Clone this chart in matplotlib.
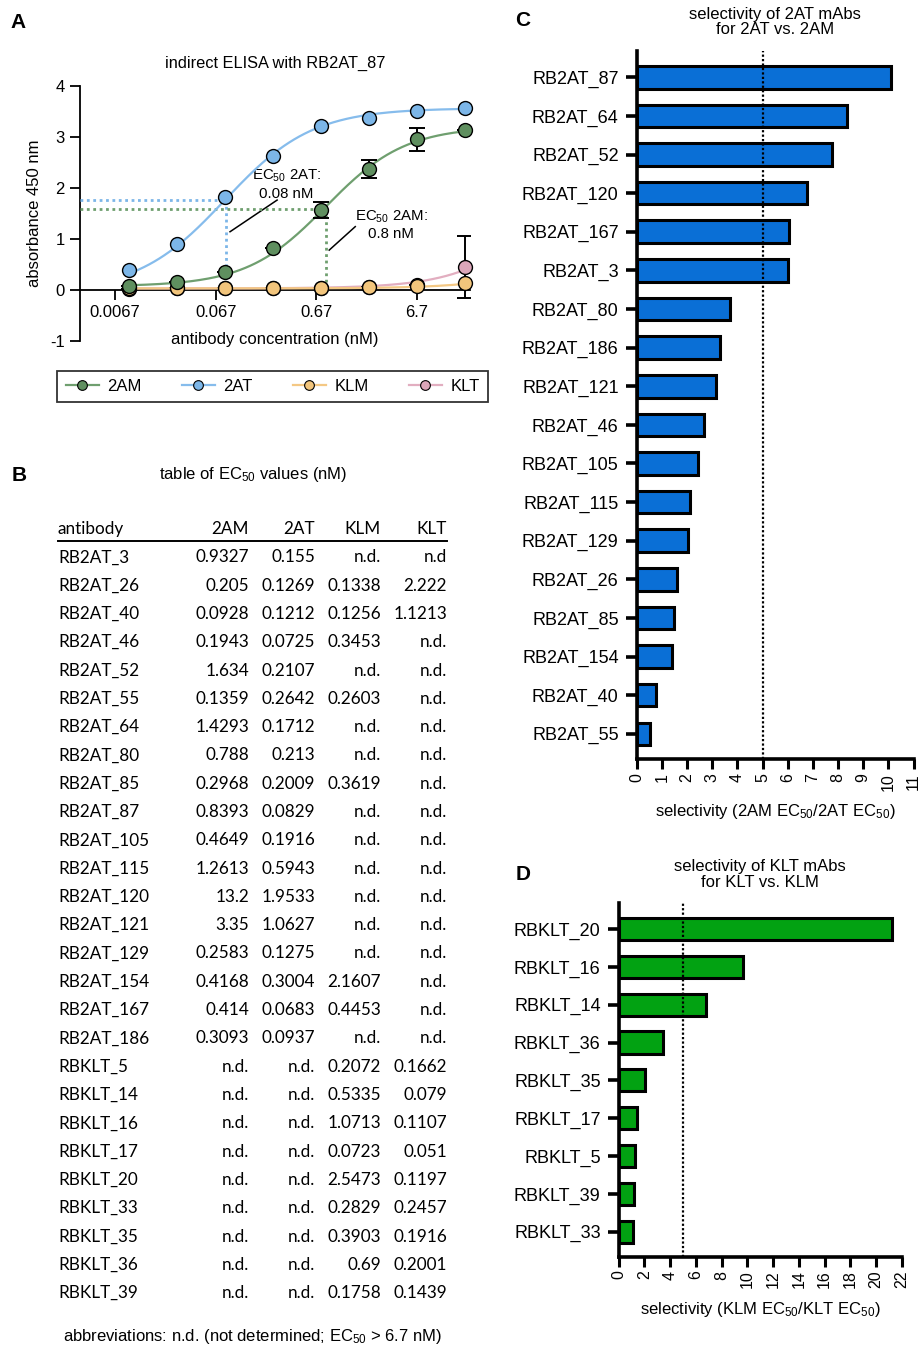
import numpy as np
import matplotlib.pyplot as plt
from matplotlib.lines import Line2D

plt.rcParams['font.family'] = 'Liberation Sans'
plt.rcParams['mathtext.fontset'] = 'custom'
plt.rcParams['mathtext.rm'] = 'Liberation Sans'
plt.rcParams['mathtext.it'] = 'Liberation Sans:italic'
plt.rcParams['mathtext.bf'] = 'Liberation Sans:bold'

# ================= data =================
# panel A: indirect ELISA with RB2AT_87
conc = [0.0092, 0.0276, 0.0827, 0.248, 0.744, 2.23, 6.7, 20.1]
abs_2am = [0.08, 0.16, 0.35, 0.82, 1.57, 2.37, 2.95, 3.14]
err_2am = [0.0, 0.0, 0.0, 0.0, 0.16, 0.18, 0.23, 0.0]
abs_2at = [0.39, 0.89, 1.82, 2.63, 3.21, 3.37, 3.51, 3.57]
abs_klm = [0.03, 0.03, 0.04, 0.04, 0.04, 0.05, 0.08, 0.13]
abs_klt = [0.02, 0.03, 0.03, 0.03, 0.04, 0.06, 0.10, 0.45]
err_klt = [0.0, 0.0, 0.0, 0.0, 0.0, 0.0, 0.0, 0.61]
# 4PL fit parameters (bottom, top, EC50, hill)
fit_2am = (0.07, 3.20, 0.8393, 1.1)
fit_2at = (-0.04, 3.56, 0.0829, 1.0)
fit_klm = (0.03, 1.0, 200.0, 1.0)
fit_klt = (0.03, 4.0, 200.0, 1.0)
conc_ticks = [0.0067, 0.067, 0.67, 6.7]
conc_tick_labels = ['0.0067', '0.067', '0.67', '6.7']

# panel B: table of EC50 values
antibodies = ['RB2AT_3', 'RB2AT_26', 'RB2AT_40', 'RB2AT_46', 'RB2AT_52', 'RB2AT_55',
              'RB2AT_64', 'RB2AT_80', 'RB2AT_85', 'RB2AT_87', 'RB2AT_105', 'RB2AT_115',
              'RB2AT_120', 'RB2AT_121', 'RB2AT_129', 'RB2AT_154', 'RB2AT_167', 'RB2AT_186',
              'RBKLT_5', 'RBKLT_14', 'RBKLT_16', 'RBKLT_17', 'RBKLT_20', 'RBKLT_33',
              'RBKLT_35', 'RBKLT_36', 'RBKLT_39']
ec50_2am = ['0.9327', '0.205', '0.0928', '0.1943', '1.634', '0.1359', '1.4293', '0.788',
            '0.2968', '0.8393', '0.4649', '1.2613', '13.2', '3.35', '0.2583', '0.4168',
            '0.414', '0.3093'] + ['n.d.'] * 9
ec50_2at = ['0.155', '0.1269', '0.1212', '0.0725', '0.2107', '0.2642', '0.1712', '0.213',
            '0.2009', '0.0829', '0.1916', '0.5943', '1.9533', '1.0627', '0.1275', '0.3004',
            '0.0683', '0.0937'] + ['n.d.'] * 9
ec50_klm = ['n.d.', '0.1338', '0.1256', '0.3453', 'n.d.', '0.2603', 'n.d.', 'n.d.', '0.3619',
            'n.d.', 'n.d.', 'n.d.', 'n.d.', 'n.d.', 'n.d.', '2.1607', '0.4453', 'n.d.',
            '0.2072', '0.5335', '1.0713', '0.0723', '2.5473', '0.2829', '0.3903', '0.69', '0.1758']
ec50_klt = ['n.d', '2.222', '1.1213'] + ['n.d.'] * 15 + \
           ['0.1662', '0.079', '0.1107', '0.051', '0.1197', '0.2457', '0.1916', '0.2001', '0.1439']
table_header = ['antibody', '2AM', '2AT', 'KLM', 'KLT']

# panel C: selectivity 2AT vs 2AM
sel_2at_names = ['RB2AT_87', 'RB2AT_64', 'RB2AT_52', 'RB2AT_120', 'RB2AT_167', 'RB2AT_3',
                 'RB2AT_80', 'RB2AT_186', 'RB2AT_121', 'RB2AT_46', 'RB2AT_105', 'RB2AT_115',
                 'RB2AT_129', 'RB2AT_26', 'RB2AT_85', 'RB2AT_154', 'RB2AT_40', 'RB2AT_55']
sel_2at = [10.12, 8.35, 7.76, 6.76, 6.06, 6.02, 3.70, 3.30, 3.15, 2.68, 2.43, 2.12,
           2.03, 1.62, 1.48, 1.39, 0.77, 0.51]

# panel D: selectivity KLT vs KLM
sel_klt_names = ['RBKLT_20', 'RBKLT_16', 'RBKLT_14', 'RBKLT_36', 'RBKLT_35', 'RBKLT_17',
                 'RBKLT_5', 'RBKLT_39', 'RBKLT_33']
sel_klt = [21.28, 9.68, 6.75, 3.45, 2.04, 1.42, 1.25, 1.22, 1.15]
sel_cutoff = 5

# ================= style =================
c_2am, c_2at, c_klm, c_klt = '#5f8f5f', '#7cb6e8', '#f2c57c', '#dba6b9'
l_2am, l_2at, l_klm, l_klt = '#6f9f6f', '#86bcec', '#f4c884', '#e2aec0'
bar_blue = '#0a6fd6'
bar_green = '#02a212'

W, H = 923, 1349
fig = plt.figure(figsize=(W / 100, H / 100), dpi=100)


def box(left, top, right, bottom):
    return [left / W, 1 - bottom / H, (right - left) / W, (bottom - top) / H]


def four_pl(x, p):
    b, t, ec, h = p
    return b + (t - b) / (1 + (ec / x) ** h)


# ================= panel A =================
axA = fig.add_axes(box(80, 85.7, 470, 341))
xmin, xmax = 0.003, 22.7
axA.set_xscale('log')
axA.set_xlim(xmin, xmax)
axA.set_ylim(-1, 4)

xs = np.logspace(np.log10(conc[0]), np.log10(conc[-1]), 200)
series = [(abs_2am, fit_2am, c_2am, l_2am, '2AM', err_2am),
          (abs_2at, fit_2at, c_2at, l_2at, '2AT', None),
          (abs_klm, fit_klm, c_klm, l_klm, 'KLM', None),
          (abs_klt, fit_klt, c_klt, l_klt, 'KLT', err_klt)]
z_order = {'2AM': 6, '2AT': 5, 'KLM': 4.6, 'KLT': 4}
handles = []
for vals, fit, fc, lc, name, err in series:
    z = z_order[name]
    axA.plot(xs, four_pl(xs, fit), color=lc, lw=1.6, zorder=z)
    if err is not None:
        axA.errorbar(conc, vals, yerr=err, fmt='none', ecolor='black', elinewidth=1.4,
                     capsize=6, capthick=1.4, zorder=z)
    axA.plot(conc, vals, 'o', ms=10, mfc=fc, mec='black', mew=1.0, zorder=z + 0.2,
             clip_on=False)
    handles.append(Line2D([], [], color=lc, lw=1.6, marker='o', ms=7, mfc=fc,
                          mec='black', mew=0.8, label=name))

# EC50 guide lines
ec_2at, mid_2at = 0.0856, 1.76
ec_2am, mid_2am = 0.836, 1.59
axA.plot([xmin, ec_2at], [mid_2at, mid_2at], color=c_2at, ls=(0, (1, 1.3)), lw=2, zorder=3)
axA.plot([ec_2at, ec_2at], [mid_2at, 0.35], color=c_2at, ls=(0, (1, 1.3)), lw=2, zorder=3)
axA.plot([xmin, ec_2am], [mid_2am, mid_2am], color=l_2am, ls=(0, (1, 1.3)), lw=2, zorder=3)
axA.plot([ec_2am, ec_2am], [mid_2am, 0], color=l_2am, ls=(0, (1, 1.3)), lw=2, zorder=3)
axA.plot([0.0932, 0.274], [1.14, 1.76], color='black', lw=1.1)
axA.plot([0.903, 1.64], [0.78, 1.24], color='black', lw=1.1)
axA.text(0.34, 2.07, 'EC$_{50}$ 2AT:\n0.08 nM', ha='center', va='center', fontsize=10.8,
         linespacing=1.2)
axA.text(3.73, 1.27, 'EC$_{50}$ 2AM:\n0.8 nM', ha='center', va='center', fontsize=10.8,
         linespacing=1.2)

axA.spines['top'].set_visible(False)
axA.spines['right'].set_visible(False)
axA.spines['bottom'].set_position(('data', 0))
for s in ['left', 'bottom']:
    axA.spines[s].set_linewidth(1.3)
axA.set_xticks(conc_ticks)
axA.set_xticklabels(conc_tick_labels)
axA.xaxis.set_minor_locator(plt.NullLocator())
axA.set_yticks([-1, 0, 1, 2, 3, 4])
axA.set_yticklabels(['-1', '0', '1', '2', '3', '4'])
axA.tick_params(axis='both', direction='out', length=7, width=1.3, labelsize=12)
axA.tick_params(axis='y', pad=4)
axA.set_xlabel('antibody concentration (nM)', fontsize=12, labelpad=9)
axA.set_ylabel('absorbance 450 nm', fontsize=12, labelpad=6)
axA.set_title('indirect ELISA with RB2AT_87', fontsize=11.8, pad=13)

leg = axA.legend(handles=handles, loc='center', ncol=4, bbox_to_anchor=(272.5 / W, 1 - 386.5 / H),
                 bbox_transform=fig.transFigure, fontsize=12, frameon=True, fancybox=False,
                 edgecolor='black', handlelength=2.0, columnspacing=2.4, handletextpad=0.5,
                 borderpad=0.5, borderaxespad=0)
leg.get_frame().set_linewidth(1.3)

# ================= panel B (table) =================
n_rows = len(antibodies)
axB = fig.add_axes(box(58, 514.85, 447, 1307.25))
axB.set_xlim(0, 1)
axB.set_ylim(n_rows - 0.5, -1.5)
axB.axis('off')
col_x = [0.0, 0.491, 0.661, 0.830, 1.0]
col_ha = ['left', 'right', 'right', 'right', 'right']
tab_font = dict(family='Lato', fontsize=12.3, va='center')
for j, h in enumerate(table_header):
    axB.text(col_x[j], -1, h, ha=col_ha[j], **tab_font)
axB.plot([0, 1], [-0.56, -0.56], color='black', lw=1.4, clip_on=False)
columns = [antibodies, ec50_2am, ec50_2at, ec50_klm, ec50_klt]
for j, col in enumerate(columns):
    for i, v in enumerate(col):
        axB.text(col_x[j], i, v, ha=col_ha[j], **tab_font)

fig.text(253 / W, 1 - 475 / H, 'table of EC$_{50}$ values (nM)', ha='center', va='center',
         fontsize=12)
fig.text(253 / W, 1 - 1337 / H, 'abbreviations: n.d. (not determined; EC$_{50}$ > 6.7 nM)',
         ha='center', va='center', fontsize=12)


# ================= panels C and D =================
def selectivity_panel(ax, names, vals, color, xmax, xstep, title, xlabel):
    n = len(names)
    y = np.arange(n)
    ax.barh(y, vals, height=0.585, color=color, edgecolor='black', linewidth=2.2, zorder=2)
    ax.axvline(sel_cutoff, color='black', ls=(0, (1, 1)), lw=1.6, zorder=3)
    ax.set_ylim(n - 1 + 0.66, -0.68)
    ax.set_xlim(0, xmax)
    ax.set_yticks(y)
    ax.set_yticklabels(names, fontsize=13)
    ax.set_xticks(np.arange(0, xmax + 0.1, xstep))
    ax.set_xticklabels([str(int(v)) for v in np.arange(0, xmax + 0.1, xstep)], rotation=90,
                       fontsize=11.5)
    ax.spines['top'].set_visible(False)
    ax.spines['right'].set_visible(False)
    for s in ['left', 'bottom']:
        ax.spines[s].set_linewidth(2.6)
    ax.tick_params(axis='y', length=8, width=2.6, pad=5)
    ax.tick_params(axis='x', length=7, width=2.2, pad=3)
    ax.set_title(title, fontsize=12, pad=12, linespacing=1.05)
    ax.set_xlabel(xlabel, fontsize=12, labelpad=8)


axC = fig.add_axes(box(636.7, 51, 913.5, 759.3))
selectivity_panel(axC, sel_2at_names, sel_2at, bar_blue, 11, 1,
                  'selectivity of 2AT mAbs\nfor 2AT vs. 2AM',
                  'selectivity (2AM EC$_{50}$/2AT EC$_{50}$)')
axD = fig.add_axes(box(618.7, 903.3, 901.7, 1256.7))
selectivity_panel(axD, sel_klt_names, sel_klt, bar_green, 22, 2,
                  'selectivity of KLT mAbs\nfor KLT vs. KLM',
                  'selectivity (KLM EC$_{50}$/KLT EC$_{50}$)')

# panel letters
for letter, (px, py) in {'A': (18, 22), 'B': (19, 476), 'C': (523, 20), 'D': (523, 874)}.items():
    fig.text(px / W, 1 - py / H, letter, ha='center', va='center', fontsize=15,
             fontweight='bold')

fig.savefig('out.png', dpi=100)
